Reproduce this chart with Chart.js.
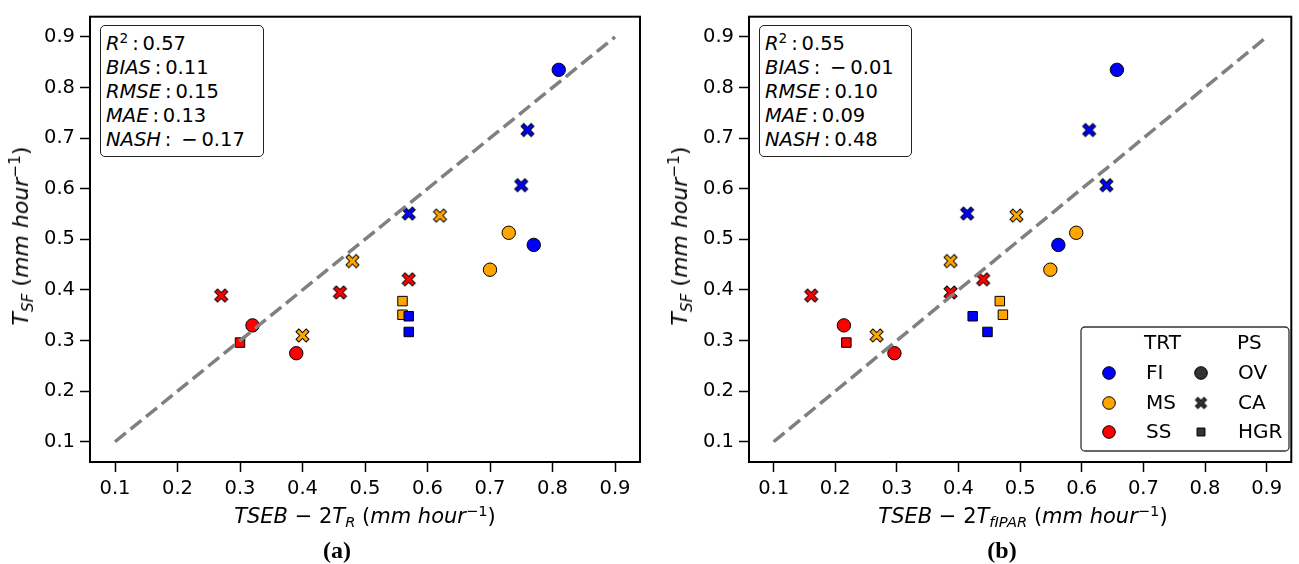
<!DOCTYPE html>
<html>
<head>
<meta charset="utf-8">
<script src="https://cdn.jsdelivr.net/npm/chart.js@4.4.1/dist/chart.umd.min.js"></script>
<style>
  body { margin: 0; background: #fff; }
  #wrap { position: relative; width: 1299px; height: 564px; overflow: hidden; }
  canvas { position: absolute; top: 0; }
  .stats {
    position: absolute; background: #fff; border: 1.3px solid #222; border-radius: 5px;
    font-family: "DejaVu Sans", sans-serif; font-size: 19.5px; line-height: 24px;
    padding: 6px 4px 4px 5px; color: #000; white-space: nowrap; box-sizing: border-box;
  }
  .title {
    position: absolute; font-family: "DejaVu Sans", sans-serif; font-size: 21px;
    white-space: nowrap; color: #000; line-height: 24px;
  }
  .panel {
    position: absolute; font-family: "Liberation Serif", serif; font-weight: bold;
    font-size: 24px; color: #000; transform: translate(-50%, -50%);
  }
  sup { font-size: 70%; vertical-align: 0.5em; line-height: 0; }
  sub { font-size: 70%; vertical-align: -0.3em; line-height: 0; }
</style>
</head>
<body>
<div id="wrap">
  <canvas id="chartA" width="650" height="564" style="left:0"></canvas>
  <canvas id="chartB" width="649" height="564" style="left:650px"></canvas>

  <div class="stats" id="statsA" style="left:100px;top:25px;width:164px;height:132px"></div>
  <div class="stats" id="statsB" style="left:759px;top:25px;width:153px;height:132px"></div>

  <div class="title" style="left:21px;top:236px;font-size:22px;transform:translate(-50%,-50%) rotate(-90deg)"><i>T</i><sub><i>SF</i></sub> (<i>mm hour</i><sup>−1</sup>)</div>
  <div class="title" style="left:680px;top:236px;font-size:22px;transform:translate(-50%,-50%) rotate(-90deg)"><i>T</i><sub><i>SF</i></sub> (<i>mm hour</i><sup>−1</sup>)</div>

  <div class="title" style="left:365px;top:516px;transform:translate(-50%,-50%)"><i>TSEB</i> − 2<i>T</i><sub><i>R</i></sub> (<i>mm hour</i><sup>−1</sup>)</div>
  <div class="title" style="left:1023px;top:516px;transform:translate(-50%,-50%)"><i>TSEB</i> − 2<i>T</i><sub><i>fIPAR</i></sub> (<i>mm hour</i><sup>−1</sup>)</div>

  <div class="panel" style="left:337px;top:550px">(a)</div>
  <div class="panel" style="left:1002px;top:550px">(b)</div>
</div>

<script>
// measured T_SF against the two TSEB runs
const trt = ['FI', 'FI', 'FI', 'FI', 'MS', 'MS', 'FI', 'MS', 'MS', 'SS',
             'SS', 'SS', 'MS', 'MS', 'FI', 'FI', 'SS', 'MS', 'SS', 'SS'];
const ps = ['OV', 'CA', 'CA', 'CA', 'CA', 'OV', 'OV', 'CA', 'OV', 'CA',
            'CA', 'CA', 'HGR', 'HGR', 'HGR', 'HGR', 'OV', 'CA', 'HGR', 'OV'];
const tsf = [0.835, 0.716, 0.607, 0.551, 0.547, 0.513, 0.489, 0.457, 0.440, 0.421,
             0.395, 0.389, 0.378, 0.351, 0.348, 0.317, 0.330, 0.310, 0.296, 0.275];
const tsebTR = [0.81, 0.76, 0.75, 0.57, 0.62, 0.73, 0.77, 0.48, 0.70, 0.57,
                0.46, 0.27, 0.56, 0.56, 0.57, 0.57, 0.32, 0.40, 0.30, 0.39];
const tsebFIPAR = [0.657, 0.612, 0.640, 0.414, 0.494, 0.591, 0.562, 0.387, 0.549, 0.440,
                   0.387, 0.161, 0.467, 0.472, 0.423, 0.447, 0.214, 0.267, 0.218, 0.296];

const tickValues = [0.1, 0.2, 0.3, 0.4, 0.5, 0.6, 0.7, 0.8, 0.9];
const oneToOne = [0.1, 0.9];

const statNames = ['R2', 'BIAS', 'RMSE', 'MAE', 'NASH'];
const statsA = ['0.57', '0.11', '0.15', '0.13', '-0.17'];
const statsB = ['0.55', '-0.01', '0.10', '0.09', '0.48'];

const trtLabels = ['FI', 'MS', 'SS'];
const psLabels = ['OV', 'CA', 'HGR'];

const trtColors = { FI: '#0000ff', MS: '#ffa500', SS: '#ff0000' };
const tickFont = { family: 'DejaVu Sans', size: 19.5 };

// filled "X" marker like matplotlib's
function xMarker(color, size) {
    const n = Math.ceil(size) + 4;
    const c = document.createElement('canvas');
    c.width = n; c.height = n;
    const g = c.getContext('2d');
    const total = size / 2 * Math.SQRT2;
    const w = total * 0.22, a = total - w;
    const pts = [[w, a], [w, w], [a, w], [a, -w], [w, -w], [w, -a],
                 [-w, -a], [-w, -w], [-a, -w], [-a, w], [-w, w], [-w, a]];
    g.translate(n / 2, n / 2);
    g.rotate(Math.PI / 4);
    g.beginPath();
    pts.forEach((p, i) => i ? g.lineTo(p[0], p[1]) : g.moveTo(p[0], p[1]));
    g.closePath();
    g.fillStyle = color;
    g.fill();
    g.lineWidth = 1;
    g.strokeStyle = '#000';
    g.stroke();
    return c;
}

function markerFor(p, color, size) {
    if (p === 'OV') return 'circle';
    if (p === 'HGR') return 'rect';
    return xMarker(color, size);
}

function statsHtml(vals) {
    return statNames.map((n, i) => {
        const name = n === 'R2' ? '<i>R</i><sup>2</sup>' : '<i>' + n + '</i>';
        let v = vals[i];
        if (v.startsWith('-')) v = '&ensp;−&thinsp;' + v.slice(1);
        else v = '&thinsp;' + v;
        return '<div>' + name + '&thinsp;:' + v + '</div>';
    }).join('');
}
document.getElementById('statsA').innerHTML = statsHtml(statsA);
document.getElementById('statsB').innerHTML = statsHtml(statsB);

const framePlugin = {
    id: 'frame',
    afterDraw(chart) {
        const { ctx, chartArea: a } = chart;
        ctx.save();
        ctx.lineWidth = 2;
        ctx.strokeStyle = '#000';
        ctx.strokeRect(a.left, a.top, a.right - a.left, a.bottom - a.top);
        ctx.restore();
    }
};

const psLegendPlugin = {
    id: 'psLegend',
    afterDraw(chart) {
        const ctx = chart.ctx;
        const bx = 431, by = 327, bw = 208, bh = 124;
        ctx.save();
        ctx.beginPath();
        ctx.roundRect(bx, by, bw, bh, 4);
        ctx.fillStyle = '#fff';
        ctx.fill();
        ctx.lineWidth = 1.3;
        ctx.strokeStyle = '#333';
        ctx.stroke();

        ctx.font = '20px "DejaVu Sans"';
        ctx.fillStyle = '#000';
        ctx.textBaseline = 'middle';
        ctx.fillText('TRT', 494, 344);
        ctx.fillText('PS', 587, 344);
        const rows = [373, 403, 432];
        trtLabels.forEach((t, i) => {
            ctx.fillStyle = trtColors[t];
            ctx.strokeStyle = '#000';
            ctx.lineWidth = 1;
            Chart.helpers.drawPoint(ctx, { pointStyle: 'circle', radius: 6.3, rotation: 0, borderWidth: 1 }, 459, rows[i]);
            ctx.fillStyle = '#000';
            ctx.fillText(t, 496, rows[i] + 1);
        });
        psLabels.forEach((p, i) => {
            ctx.fillStyle = '#333';
            ctx.strokeStyle = '#000';
            ctx.lineWidth = 1;
            Chart.helpers.drawPoint(ctx, { pointStyle: markerFor(p, '#333', 11), radius: p === 'HGR' ? 5.6 : 6.3, rotation: 0, borderWidth: 1 }, 551, rows[i]);
            ctx.fillStyle = '#000';
            ctx.fillText(p, 588, rows[i] + 1);
        });
        ctx.restore();
    }
};

function buildChart(canvasId, xs, yAxisWidth, padRight, extraPlugins) {
    const ctx = document.getElementById(canvasId).getContext('2d');
    const axisCommon = {
        type: 'linear',
        min: 0.06,
        max: 0.94,
        afterBuildTicks: s => { s.ticks = tickValues.map(v => ({ value: v })); },
        ticks: { callback: v => v.toFixed(1), font: tickFont, color: '#000', padding: 5, autoSkip: false, maxRotation: 0 },
        grid: { drawOnChartArea: false, drawTicks: true, tickLength: 10, tickWidth: 1.5, tickColor: '#000' },
        border: { display: false }
    };
    return new Chart(ctx, {
        type: 'scatter',
        data: {
            datasets: [{
                type: 'line',
                data: oneToOne.map(v => ({ x: v, y: v })),
                borderColor: '#808080',
                borderWidth: 3.5,
                borderDash: [14, 6],
                pointRadius: 0,
                fill: false,
                order: 0
            }, {
                data: xs.map((x, i) => ({ x: x, y: tsf[i] })),
                pointStyle: ps.map((p, i) => markerFor(p, trtColors[trt[i]], 13)),
                pointRadius: 6.7,
                pointBackgroundColor: trt.map(t => trtColors[t]),
                pointBorderColor: '#000',
                pointBorderWidth: 1,
                order: 1
            }]
        },
        options: {
            responsive: false,
            animation: false,
            events: [],
            layout: { padding: { left: 0, top: 11, right: padRight, bottom: 0 } },
            plugins: { legend: { display: false }, tooltip: { enabled: false } },
            scales: {
                x: Object.assign({}, axisCommon, { afterFit: s => { s.height = 102; } }),
                y: Object.assign({}, axisCommon, { afterFit: s => { s.width = yAxisWidth; } })
            }
        },
        plugins: [framePlugin].concat(extraPlugins)
    });
}

buildChart('chartA', tsebTR, 90, 10, []);
buildChart('chartB', tsebFIPAR, 99, 1, [psLegendPlugin]);
</script>
</body>
</html>
